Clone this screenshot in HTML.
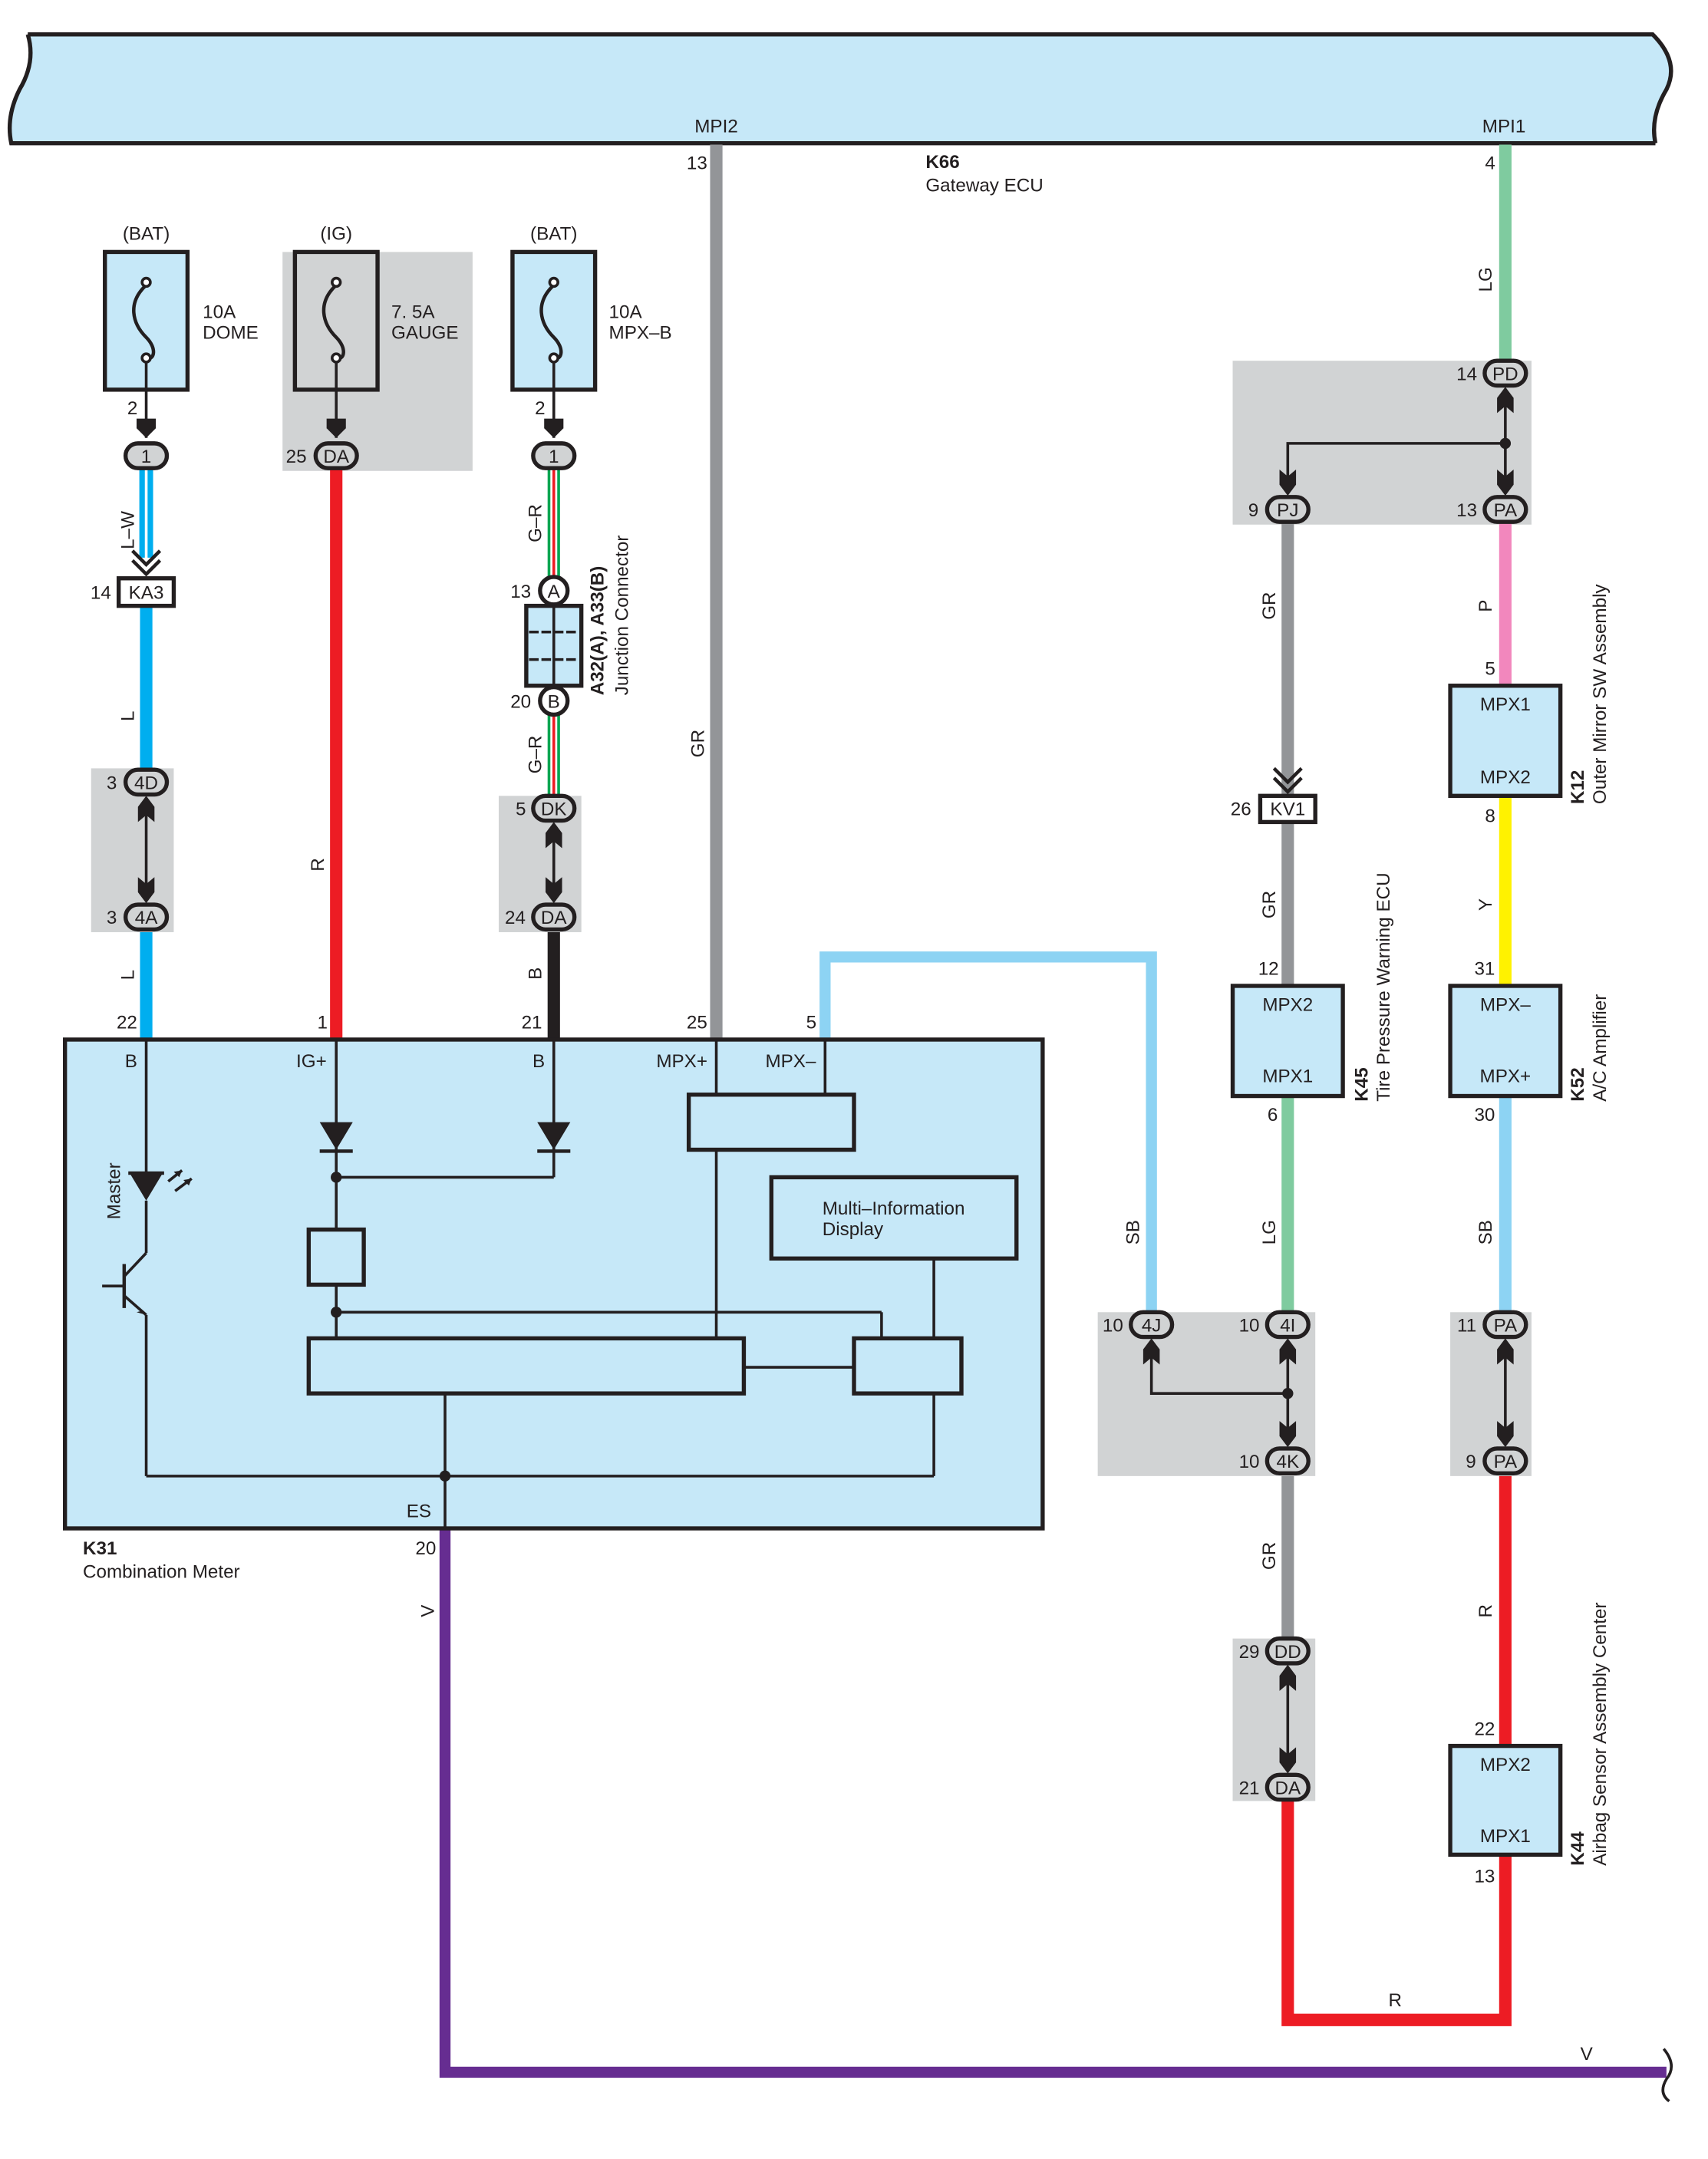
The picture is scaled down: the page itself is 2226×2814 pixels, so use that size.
<!DOCTYPE html>
<html><head><meta charset="utf-8"><style>
html,body{margin:0;padding:0;background:#fff}
svg{display:block}
text{font-family:"Liberation Sans",sans-serif;font-size:13.5px;fill:#231f20}
.c{text-anchor:middle}
.r{text-anchor:end}
.b{font-weight:bold}
.box{fill:#c6e8f8;stroke:#231f20;stroke-width:3}
.gb{fill:#d1d3d4}
.ov{fill:#d1d3d4;stroke:#231f20;stroke-width:3}
.ln{stroke:#231f20;stroke-width:2;fill:none}
</style></head><body>
<svg width="2226" height="2814" viewBox="0 0 1240 1568" xmlns="http://www.w3.org/2000/svg">
<!-- top ECU banner -->
<path d="M20,25 L1200,25 Q1220,45 1210,65 Q1198,85 1202,104 L8,104 Q4,85 14,65 Q26,45 20,25 Z" fill="#c6e8f8"/>
<path d="M20,25 L1200,25 Q1220,45 1210,65 Q1198,85 1202,104" class="ln" style="stroke-width:3"/>
<path d="M20,25 Q26,45 14,65 Q4,85 8,104 L1202,104" class="ln" style="stroke-width:3"/>
<text x="520" y="96" class="c">MPI2</text>
<text x="1092" y="96" class="c">MPI1</text>
<text x="672" y="122" class="b">K66</text>
<text x="672" y="139">Gateway ECU</text>

<!-- gray boxes -->
<rect x="205" y="183" width="138" height="159" class="gb"/>
<rect x="66" y="558" width="60" height="119" class="gb"/>
<rect x="362" y="578" width="60" height="99" class="gb"/>
<rect x="895" y="262" width="217" height="119" class="gb"/>
<rect x="797" y="953" width="158" height="119" class="gb"/>
<rect x="1053" y="953" width="59" height="119" class="gb"/>
<rect x="895" y="1190" width="60" height="118" class="gb"/>

<!-- wires -->
<line x1="520" y1="105" x2="520" y2="755" stroke="#939598" stroke-width="9"/>
<line x1="1093" y1="105" x2="1093" y2="262" stroke="#7fcb9f" stroke-width="9"/>
<line x1="103" y1="340" x2="103" y2="405" stroke="#00aeef" stroke-width="4"/>
<line x1="109" y1="340" x2="109" y2="405" stroke="#00aeef" stroke-width="4"/>
<line x1="106" y1="440" x2="106" y2="558" stroke="#00aeef" stroke-width="9"/>
<line x1="106" y1="677" x2="106" y2="755" stroke="#00aeef" stroke-width="9"/>
<line x1="244" y1="340" x2="244" y2="755" stroke="#ed1c24" stroke-width="9"/>
<g>
<line x1="402" y1="340" x2="402" y2="420" stroke="#00a651" stroke-width="9"/>
<line x1="402" y1="340" x2="402" y2="420" stroke="#fff" stroke-width="5"/>
<line x1="402" y1="340" x2="402" y2="420" stroke="#ed1c24" stroke-width="2"/>
<line x1="402" y1="518" x2="402" y2="578" stroke="#00a651" stroke-width="9"/>
<line x1="402" y1="518" x2="402" y2="578" stroke="#fff" stroke-width="5"/>
<line x1="402" y1="518" x2="402" y2="578" stroke="#ed1c24" stroke-width="2"/>
</g>
<line x1="402" y1="677" x2="402" y2="755" stroke="#231f20" stroke-width="9"/>
<path d="M599,755 L599,695 L836,695 L836,955" fill="none" stroke="#8dd3f3" stroke-width="8"/>
<path d="M323,1110 L323,1505 L1210,1505" fill="none" stroke="#662d91" stroke-width="8"/>
<path d="M1208,1488 Q1218,1500 1210,1510 Q1204,1520 1212,1526" class="ln"/>
<line x1="935" y1="380" x2="935" y2="578" stroke="#939598" stroke-width="9"/>
<line x1="935" y1="597" x2="935" y2="716" stroke="#939598" stroke-width="9"/>
<line x1="935" y1="796" x2="935" y2="955" stroke="#7fcb9f" stroke-width="9"/>
<line x1="935" y1="1072" x2="935" y2="1190" stroke="#939598" stroke-width="9"/>
<path d="M935,1308 L935,1467 L1093,1467 L1093,1347" fill="none" stroke="#ed1c24" stroke-width="9"/>
<line x1="1093" y1="380" x2="1093" y2="498" stroke="#f287bd" stroke-width="9"/>
<line x1="1093" y1="578" x2="1093" y2="716" stroke="#fff200" stroke-width="9"/>
<line x1="1093" y1="796" x2="1093" y2="955" stroke="#8dd3f3" stroke-width="9"/>
<line x1="1093" y1="1072" x2="1093" y2="1268" stroke="#ed1c24" stroke-width="9"/>

<!-- fuses -->
<g>
<rect x="76" y="183" width="60" height="100" class="box"/>
<rect x="214" y="183" width="60" height="100" class="box" style="fill:#d1d3d4"/>
<rect x="372" y="183" width="60" height="100" class="box"/>
<path d="M106,207 C92,220 96,235 106,245 C114,253 112,262 106,260" class="ln" style="stroke-width:2.5"/>
<path d="M244,207 C230,220 234,235 244,245 C252,253 250,262 244,260" class="ln" style="stroke-width:2.5"/>
<path d="M402,207 C388,220 392,235 402,245 C410,253 408,262 402,260" class="ln" style="stroke-width:2.5"/>
<circle cx="106" cy="205" r="3" fill="#fff" stroke="#231f20" stroke-width="2"/>
<circle cx="106" cy="260" r="3" fill="#fff" stroke="#231f20" stroke-width="2"/>
<circle cx="244" cy="205" r="3" fill="#fff" stroke="#231f20" stroke-width="2"/>
<circle cx="244" cy="260" r="3" fill="#fff" stroke="#231f20" stroke-width="2"/>
<circle cx="402" cy="205" r="3" fill="#fff" stroke="#231f20" stroke-width="2"/>
<circle cx="402" cy="260" r="3" fill="#fff" stroke="#231f20" stroke-width="2"/>
<line x1="106" y1="263" x2="106" y2="318" class="ln"/>
<line x1="244" y1="263" x2="244" y2="318" class="ln"/>
<line x1="402" y1="263" x2="402" y2="318" class="ln"/>
<path d="M99,304 L113,304 L113,311 L106,318 L99,311Z" fill="#231f20"/>
<path d="M237,304 L251,304 L251,311 L244,318 L237,311Z" fill="#231f20"/>
<path d="M395,304 L409,304 L409,311 L402,318 L395,311Z" fill="#231f20"/>
<text x="106" y="174" class="c">(BAT)</text>
<text x="244" y="174" class="c">(IG)</text>
<text x="402" y="174" class="c">(BAT)</text>
<text x="147" y="231">10A</text><text x="147" y="246">DOME</text>
<text x="284" y="231">7. 5A</text><text x="284" y="246">GAUGE</text>
<text x="442" y="231">10A</text><text x="442" y="246">MPX–B</text>
<text x="96" y="301" class="c">2</text>
<text x="392" y="301" class="c">2</text>
</g>

<!-- connectors ovals -->
<g>
<rect x="91" y="322" width="30" height="18" rx="9" class="ov"/><text x="106" y="336" class="c">1</text>
<rect x="229" y="322" width="30" height="18" rx="9" class="ov"/><text x="244" y="336" class="c">DA</text><text x="215" y="336" class="c">25</text>
<rect x="387" y="322" width="30" height="18" rx="9" class="ov"/><text x="402" y="336" class="c">1</text>
<rect x="91" y="559" width="30" height="18" rx="9" class="ov"/><text x="106" y="573" class="c">4D</text><text x="81" y="573" class="c">3</text>
<rect x="91" y="657" width="30" height="18" rx="9" class="ov"/><text x="106" y="671" class="c">4A</text><text x="81" y="671" class="c">3</text>
<rect x="387" y="578" width="30" height="18" rx="9" class="ov"/><text x="402" y="592" class="c">DK</text><text x="378" y="592" class="c">5</text>
<rect x="387" y="657" width="30" height="18" rx="9" class="ov"/><text x="402" y="671" class="c">DA</text><text x="374" y="671" class="c">24</text>
<rect x="1078" y="262" width="30" height="18" rx="9" class="ov"/><text x="1093" y="276" class="c">PD</text><text x="1065" y="276" class="c">14</text>
<rect x="1078" y="361" width="30" height="18" rx="9" class="ov"/><text x="1093" y="375" class="c">PA</text><text x="1065" y="375" class="c">13</text>
<rect x="920" y="361" width="30" height="18" rx="9" class="ov"/><text x="935" y="375" class="c">PJ</text><text x="910" y="375" class="c">9</text>
<rect x="821" y="953" width="30" height="18" rx="9" class="ov"/><text x="836" y="967" class="c">4J</text><text x="808" y="967" class="c">10</text>
<rect x="920" y="953" width="30" height="18" rx="9" class="ov"/><text x="935" y="967" class="c">4I</text><text x="907" y="967" class="c">10</text>
<rect x="920" y="1052" width="30" height="18" rx="9" class="ov"/><text x="935" y="1066" class="c">4K</text><text x="907" y="1066" class="c">10</text>
<rect x="1078" y="953" width="30" height="18" rx="9" class="ov"/><text x="1093" y="967" class="c">PA</text><text x="1065" y="967" class="c">11</text>
<rect x="1078" y="1052" width="30" height="18" rx="9" class="ov"/><text x="1093" y="1066" class="c">PA</text><text x="1068" y="1066" class="c">9</text>
<rect x="920" y="1190" width="30" height="18" rx="9" class="ov"/><text x="935" y="1204" class="c">DD</text><text x="907" y="1204" class="c">29</text>
<rect x="920" y="1289" width="30" height="18" rx="9" class="ov"/><text x="935" y="1303" class="c">DA</text><text x="907" y="1303" class="c">21</text>
</g>

<!-- double arrow links in gray boxes -->
<g fill="#231f20">
<line x1="106" y1="584" x2="106" y2="650" class="ln"/>
<path d="M106,578 L112,586 L112,597 L106,592 L100,597 L100,586Z"/>
<path d="M106,656 L112,648 L112,637 L106,642 L100,637 L100,648Z"/>
<line x1="402" y1="603" x2="402" y2="650" class="ln"/>
<path d="M402,597 L408,605 L408,616 L402,611 L396,616 L396,605Z"/>
<path d="M402,656 L408,648 L408,637 L402,642 L396,637 L396,648Z"/>
<line x1="1093" y1="287" x2="1093" y2="354" class="ln"/>
<path d="M1093,281 L1099,289 L1099,300 L1093,295 L1087,300 L1087,289Z"/>
<path d="M1093,360 L1099,352 L1099,341 L1093,346 L1087,341 L1087,352Z"/>
<path d="M1093,322 L935,322 L935,354" class="ln"/>
<circle cx="1093" cy="322" r="4"/>
<path d="M935,360 L941,352 L941,341 L935,346 L929,341 L929,352Z"/>
<line x1="935" y1="978" x2="935" y2="1045" class="ln"/>
<path d="M935,972 L941,980 L941,991 L935,986 L929,991 L929,980Z"/>
<path d="M935,1051 L941,1043 L941,1032 L935,1037 L929,1032 L929,1043Z"/>
<path d="M836,978 L836,1012 L935,1012" class="ln"/>
<circle cx="935" cy="1012" r="4"/>
<path d="M836,972 L842,980 L842,991 L836,986 L830,991 L830,980Z"/>
<line x1="1093" y1="978" x2="1093" y2="1045" class="ln"/>
<path d="M1093,972 L1099,980 L1099,991 L1093,986 L1087,991 L1087,980Z"/>
<path d="M1093,1051 L1099,1043 L1099,1032 L1093,1037 L1087,1032 L1087,1043Z"/>
<line x1="935" y1="1215" x2="935" y2="1282" class="ln"/>
<path d="M935,1209 L941,1217 L941,1228 L935,1223 L929,1228 L929,1217Z"/>
<path d="M935,1288 L941,1280 L941,1269 L935,1274 L929,1269 L929,1280Z"/>
</g>

<!-- in-line connectors KA3, KV1 -->
<path d="M96,400 L106,410 L116,400 M96,407 L106,417 L116,407" class="ln" style="stroke-width:2.5"/>
<rect x="86" y="420" width="40" height="20" fill="#fff" stroke="#231f20" stroke-width="3"/>
<text x="106" y="435" class="c">KA3</text><text x="73" y="435" class="c">14</text>
<path d="M925,558 L935,568 L945,558 M925,565 L935,575 L945,565" class="ln" style="stroke-width:2.5"/>
<rect x="915" y="578" width="40" height="19" fill="#fff" stroke="#231f20" stroke-width="3"/>
<text x="935" y="592" class="c">KV1</text><text x="901" y="592" class="c">26</text>

<!-- junction connector -->
<circle cx="402" cy="429" r="10" fill="#fff" stroke="#231f20" stroke-width="3"/><text x="402" y="434" class="c">A</text>
<text x="378" y="434" class="c">13</text>
<rect x="382" y="440" width="40" height="58" class="box"/>
<line x1="402" y1="440" x2="402" y2="498" class="ln"/>
<line x1="384" y1="459" x2="420" y2="459" class="ln" stroke-dasharray="7,2"/>
<line x1="384" y1="479" x2="420" y2="479" class="ln" stroke-dasharray="7,2"/>
<circle cx="402" cy="509" r="10" fill="#fff" stroke="#231f20" stroke-width="3"/><text x="402" y="514" class="c">B</text>
<text x="378" y="514" class="c">20</text>
<text transform="translate(438,505) rotate(-90)" class="b">A32(A), A33(B)</text>
<text transform="translate(456,505) rotate(-90)">Junction Connector</text>

<!-- wire labels -->
<text transform="translate(97,385) rotate(-90)" class="c">L–W</text>
<text transform="translate(97,520) rotate(-90)" class="c">L</text>
<text transform="translate(97,708) rotate(-90)" class="c">L</text>
<text transform="translate(235,628) rotate(-90)" class="c">R</text>
<text transform="translate(393,380) rotate(-90)" class="c">G–R</text>
<text transform="translate(393,548) rotate(-90)" class="c">G–R</text>
<text transform="translate(393,707) rotate(-90)" class="c">B</text>
<text transform="translate(511,540) rotate(-90)" class="c">GR</text>
<text transform="translate(1083,203) rotate(-90)" class="c">LG</text>
<text transform="translate(827,895) rotate(-90)" class="c">SB</text>
<text transform="translate(926,440) rotate(-90)" class="c">GR</text>
<text transform="translate(926,657) rotate(-90)" class="c">GR</text>
<text transform="translate(926,895) rotate(-90)" class="c">LG</text>
<text transform="translate(926,1130) rotate(-90)" class="c">GR</text>
<text transform="translate(1083,440) rotate(-90)" class="c">P</text>
<text transform="translate(1083,657) rotate(-90)" class="c">Y</text>
<text transform="translate(1083,895) rotate(-90)" class="c">SB</text>
<text transform="translate(1083,1170) rotate(-90)" class="c">R</text>
<text transform="translate(315,1170) rotate(-90)" class="c">V</text>
<text x="1013" y="1457" class="c">R</text>
<text x="1152" y="1496" class="c">V</text>
<text x="506" y="123" class="c">13</text>
<text x="1082" y="123" class="c">4</text>

<!-- combination meter -->
<rect x="47" y="755" width="710" height="355" class="box"/>
<text x="92" y="747" class="c">22</text>
<text x="234" y="747" class="c">1</text>
<text x="386" y="747" class="c">21</text>
<text x="506" y="747" class="c">25</text>
<text x="589" y="747" class="c">5</text>
<text x="95" y="775" class="c">B</text>
<text x="226" y="775" class="c">IG+</text>
<text x="391" y="775" class="c">B</text>
<text x="495" y="775" class="c">MPX+</text>
<text x="574" y="775" class="c">MPX–</text>
<g class="ln">
<line x1="106" y1="755" x2="106" y2="852"/>
<line x1="106" y1="872" x2="106" y2="910"/>
<line x1="244" y1="755" x2="244" y2="893"/>
<line x1="402" y1="755" x2="402" y2="855"/>
<line x1="244" y1="855" x2="402" y2="855"/>
<line x1="244" y1="933" x2="244" y2="972"/>
<line x1="244" y1="953" x2="640" y2="953"/>
<line x1="640" y1="953" x2="640" y2="972"/>
<line x1="599" y1="755" x2="599" y2="795"/>
<line x1="520" y1="755" x2="520" y2="795"/>
<line x1="520" y1="835" x2="520" y2="972"/>
<line x1="678" y1="914" x2="678" y2="972"/>
<line x1="540" y1="993" x2="620" y2="993"/>
<line x1="323" y1="1012" x2="323" y2="1110"/>
<line x1="678" y1="1012" x2="678" y2="1072"/>
<line x1="106" y1="1072" x2="678" y2="1072"/>
<line x1="106" y1="955" x2="106" y2="1072"/>
<line x1="90" y1="918" x2="90" y2="950" style="stroke-width:2.5"/>
<line x1="74" y1="934" x2="90" y2="934"/>
<line x1="90" y1="927" x2="106" y2="910"/>
<line x1="90" y1="941" x2="106" y2="955"/>
<line x1="93" y1="852" x2="119" y2="852" style="stroke-width:2.5"/>
<line x1="122" y1="858" x2="132" y2="850"/>
<line x1="127" y1="865" x2="139" y2="856"/>
</g>
<path d="M103,952 L106,955 L99,953Z" fill="#231f20"/>
<path d="M94,872 L118,872 L106,852Z" fill="#231f20" transform="rotate(180 106 862)"/>
<path d="M132,850 L126,851 L130,855Z M139,856 L133,857 L137,861Z" fill="#231f20"/>
<path d="M232,815 L256,815 L244,835Z" fill="#231f20"/><line x1="232" y1="836" x2="256" y2="836" class="ln" style="stroke-width:2.5"/>
<path d="M390,815 L414,815 L402,835Z" fill="#231f20"/><line x1="390" y1="836" x2="414" y2="836" class="ln" style="stroke-width:2.5"/>
<circle cx="244" cy="855" r="4" fill="#231f20"/>
<circle cx="244" cy="953" r="4" fill="#231f20"/>
<circle cx="323" cy="1072" r="4" fill="#231f20"/>
<rect x="224" y="893" width="40" height="40" class="box"/>
<rect x="500" y="795" width="120" height="40" class="box"/>
<rect x="560" y="855" width="178" height="59" class="box"/>
<text x="597" y="882">Multi–Information</text>
<text x="597" y="897">Display</text>
<rect x="224" y="972" width="316" height="40" class="box"/>
<rect x="620" y="972" width="78" height="40" class="box"/>
<text transform="translate(87,865) rotate(-90)" class="c">Master</text>
<text x="304" y="1102" class="c">ES</text>
<text x="309" y="1129" class="c">20</text>
<text x="60" y="1129" class="b">K31</text>
<text x="60" y="1146">Combination Meter</text>

<!-- right components -->
<rect x="895" y="716" width="80" height="80" class="box"/>
<text x="935" y="734" class="c">MPX2</text><text x="935" y="786" class="c">MPX1</text>
<text x="921" y="708" class="c">12</text><text x="924" y="814" class="c">6</text>
<text transform="translate(993,800) rotate(-90)" class="b">K45</text>
<text transform="translate(1009,800) rotate(-90)">Tire Pressure Warning ECU</text>

<rect x="1053" y="498" width="80" height="80" class="box"/>
<text x="1093" y="516" class="c">MPX1</text><text x="1093" y="569" class="c">MPX2</text>
<text x="1082" y="490" class="c">5</text><text x="1082" y="597" class="c">8</text>
<text transform="translate(1150,584) rotate(-90)" class="b">K12</text>
<text transform="translate(1166,584) rotate(-90)">Outer Mirror SW Assembly</text>

<rect x="1053" y="716" width="80" height="80" class="box"/>
<text x="1093" y="734" class="c">MPX–</text><text x="1093" y="786" class="c">MPX+</text>
<text x="1078" y="708" class="c">31</text><text x="1078" y="814" class="c">30</text>
<text transform="translate(1150,800) rotate(-90)" class="b">K52</text>
<text transform="translate(1166,800) rotate(-90)">A/C Amplifier</text>

<rect x="1053" y="1268" width="80" height="79" class="box"/>
<text x="1093" y="1286" class="c">MPX2</text><text x="1093" y="1338" class="c">MPX1</text>
<text x="1078" y="1260" class="c">22</text><text x="1078" y="1367" class="c">13</text>
<text transform="translate(1150,1355) rotate(-90)" class="b">K44</text>
<text transform="translate(1166,1355) rotate(-90)">Airbag Sensor Assembly Center</text>
</svg>
</body></html>
